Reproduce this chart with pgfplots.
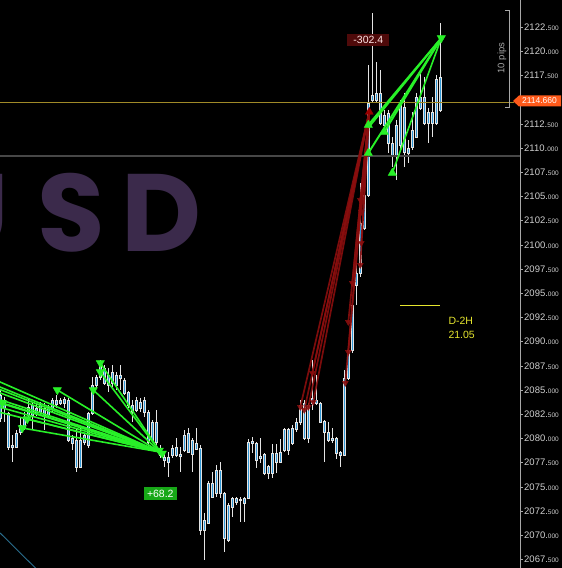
\documentclass[border=0pt]{standalone}
\usepackage{pgfplots}
\pgfplotsset{compat=1.18}
\usepgfplotslibrary{statistics}
\usepackage{fontspec}
\setmainfont{Liberation Sans}
\newfontfamily\wmfont{Poppins}

\definecolor{bg}{HTML}{000000}
\definecolor{cblue}{HTML}{2F97D6}
\definecolor{cwhite}{HTML}{E4E4E4}
\definecolor{goldline}{HTML}{A08A28}
\definecolor{greyline}{HTML}{474747}
\definecolor{tgreen}{HTML}{28F028}
\definecolor{tred}{HTML}{8A0E0E}
\definecolor{axisgrey}{HTML}{A8A8A8}
\definecolor{tickgrey}{HTML}{CFCFCF}
\definecolor{lvlyellow}{HTML}{E6E62E}
\definecolor{tagorange}{HTML}{FF5A1A}
\definecolor{plusgreen}{HTML}{17A817}
\definecolor{minusred}{HTML}{4F0A0A}
\definecolor{wm}{HTML}{3B2A4B}
\definecolor{bluediag}{HTML}{2A6E8E}

% price label: integer part and smaller decimals
\newcommand\tl[2]{\textnormal{\fontsize{9.5}{10}\selectfont #1.\fontsize{6.5}{7}\selectfont #2}}

\pgfplotsset{
  candle/.style={
    boxplot/draw direction=y,
    boxplot/box extend=2.8,
    boxplot/whisker extend=0,
    boxplot/every box/.style={draw=cwhite, fill=cblue, line width=0.5pt},
    boxplot/every whisker/.style={draw=cwhite, line width=0.55pt},
    boxplot/every median/.style={draw=none},
    draw=cwhite, solid},
  gline/.style={tgreen, line width=1.6pt, mark=none},
  rline/.style={tred, line width=1.7pt, mark=none, opacity=0.9},
}
% x, low, body low, body high, high
\newcommand\cndl[5]{\addplot[candle, boxplot prepared={draw position=#1,
  lower whisker=#2, lower quartile=#3, median=#3, upper quartile=#4,
  upper whisker=#5}] coordinates {};}
\newcommand\trade[5][gline]{\addplot[#1] coordinates {(#2,#3) (#4,#5)};}

\begin{document}
\begin{tikzpicture}[x=1pt,y=1pt]
\path[use as bounding box] (0,0) rectangle (562,568);
\fill[bg] (0,0) rectangle (562,568);

% watermark
\begin{scope}
\clip (0,0) rectangle (520,568);
\node[anchor=base east, inner sep=0, text=wm, font=\wmfont\bfseries\fontsize{110}{110}\selectfont] at (9,316) {U};
\node[anchor=base west, inner sep=0, text=wm, font=\wmfont\bfseries\fontsize{110}{110}\selectfont] at (37,316) {S};
\node[anchor=base west, inner sep=0, text=wm, font=\wmfont\bfseries\fontsize{110}{110}\selectfont] at (121,316) {D};
\end{scope}

\begin{axis}[
  at={(0,0)}, anchor=south west,
  scale only axis, width=520pt, height=568pt,
  xmin=-0.3, xmax=519.7, ymin=2066.61, ymax=2125.29,
  axis x line=none, axis y line*=right,
  axis line style={draw=axisgrey, line width=0.6pt},
  ytick={2067.5,2070,2072.5,2075,2077.5,2080,2082.5,2085,2087.5,2090,2092.5,2095,2097.5,2100,2102.5,2105,2107.5,2110,2112.5,2117.5,2120,2122.5},
  yticklabels={{\tl{2067}{500}},{\tl{2070}{000}},{\tl{2072}{500}},{\tl{2075}{000}},{\tl{2077}{500}},{\tl{2080}{000}},{\tl{2082}{500}},{\tl{2085}{000}},{\tl{2087}{500}},{\tl{2090}{000}},{\tl{2092}{500}},{\tl{2095}{000}},{\tl{2097}{500}},{\tl{2100}{000}},{\tl{2102}{500}},{\tl{2105}{000}},{\tl{2107}{500}},{\tl{2110}{000}},{\tl{2112}{500}},{\tl{2117}{500}},{\tl{2120}{000}},{\tl{2122}{500}}},
  tick align=outside, major tick length=3pt,
  tick style={draw=axisgrey, line width=0.5pt},
  yticklabel style={text=tickgrey, inner xsep=1pt},
]
% price bars
\cndl{0}{2081.69}{2082.11}{2084.48}{2085.00}
\cndl{4}{2081.69}{2083.14}{2083.97}{2084.28}
\cndl{8}{2078.80}{2079.11}{2082.62}{2082.73}
\cndl{12}{2077.56}{2079.11}{2079.32}{2080.35}
\cndl{16}{2079.01}{2079.11}{2080.56}{2080.87}
\cndl{20}{2080.35}{2080.66}{2081.38}{2082.11}
\cndl{24}{2080.87}{2081.07}{2082.11}{2082.73}
\cndl{28}{2082.11}{2082.42}{2083.24}{2084.17}
\cndl{32}{2080.87}{2082.42}{2083.45}{2083.76}
\cndl{36}{2082.31}{2082.62}{2083.14}{2083.55}
\cndl{40}{2082.42}{2082.73}{2083.45}{2083.76}
\cndl{44}{2080.87}{2082.42}{2083.14}{2083.66}
\cndl{48}{2082.11}{2082.42}{2083.24}{2083.45}
\cndl{52}{2082.73}{2083.14}{2083.97}{2084.17}
\cndl{56}{2083.14}{2083.55}{2083.97}{2084.48}
\cndl{60}{2083.45}{2083.66}{2083.97}{2084.17}
\cndl{64}{2083.14}{2083.66}{2084.07}{2084.28}
\cndl{68}{2079.63}{2079.83}{2083.97}{2084.17}
\cndl{72}{2078.80}{2079.52}{2080.04}{2080.35}
\cndl{76}{2076.53}{2077.04}{2079.83}{2081.07}
\cndl{80}{2076.94}{2077.04}{2079.83}{2081.07}
\cndl{84}{2079.32}{2079.63}{2080.35}{2080.56}
\cndl{88}{2079.01}{2079.32}{2082.62}{2082.70}
\cndl{92}{2082.42}{2082.62}{2085.52}{2086.34}
\cndl{96}{2085.21}{2085.52}{2086.34}{2086.55}
\cndl{100}{2086.03}{2086.34}{2087.79}{2088.10}
\cndl{104}{2085.52}{2085.72}{2087.27}{2087.58}
\cndl{108}{2084.79}{2085.52}{2086.55}{2087.27}
\cndl{112}{2085.31}{2085.72}{2086.86}{2087.58}
\cndl{116}{2085.00}{2085.52}{2086.55}{2086.86}
\cndl{120}{2085.00}{2086.24}{2086.55}{2087.58}
\cndl{124}{2084.48}{2084.69}{2086.03}{2086.24}
\cndl{128}{2083.14}{2083.45}{2084.79}{2084.85}
\cndl{132}{2081.69}{2082.73}{2083.45}{2083.97}
\cndl{136}{2082.73}{2082.93}{2083.97}{2084.28}
\cndl{140}{2082.73}{2083.14}{2083.76}{2084.17}
\cndl{144}{2082.21}{2082.73}{2083.97}{2084.28}
\cndl{148}{2078.80}{2079.63}{2082.73}{2082.93}
\cndl{152}{2079.63}{2079.83}{2081.69}{2081.90}
\cndl{156}{2079.32}{2079.63}{2081.69}{2082.93}
\cndl{160}{2077.97}{2078.28}{2079.01}{2079.32}
\cndl{164}{2077.04}{2077.77}{2078.08}{2078.59}
\cndl{168}{2076.01}{2077.56}{2078.08}{2078.59}
\cndl{172}{2077.97}{2078.28}{2079.01}{2079.32}
\cndl{176}{2078.08}{2078.28}{2079.11}{2080.04}
\cndl{180}{2076.53}{2078.18}{2078.39}{2079.11}
\cndl{184}{2078.59}{2078.80}{2080.35}{2080.87}
\cndl{188}{2078.49}{2078.59}{2080.56}{2081.07}
\cndl{192}{2076.53}{2078.39}{2079.83}{2080.04}
\cndl{196}{2078.80}{2078.90}{2079.52}{2081.07}
\cndl{200}{2070.02}{2070.54}{2079.01}{2079.32}
\cndl{204}{2067.44}{2070.54}{2071.57}{2072.29}
\cndl{208}{2071.16}{2071.26}{2075.39}{2075.60}
\cndl{212}{2073.84}{2073.94}{2075.39}{2076.53}
\cndl{216}{2073.94}{2074.36}{2076.73}{2077.25}
\cndl{220}{2073.84}{2074.36}{2076.73}{2077.56}
\cndl{224}{2068.26}{2069.71}{2074.36}{2074.45}
\cndl{228}{2069.30}{2069.50}{2073.12}{2073.33}
\cndl{232}{2071.88}{2072.91}{2073.84}{2073.94}
\cndl{236}{2073.12}{2073.43}{2073.84}{2073.94}
\cndl{240}{2071.36}{2073.64}{2073.74}{2073.94}
\cndl{244}{2071.36}{2073.33}{2073.84}{2073.94}
\cndl{248}{2073.74}{2073.84}{2079.63}{2079.94}
\cndl{252}{2078.49}{2079.52}{2079.73}{2080.14}
\cndl{256}{2076.94}{2077.77}{2079.52}{2079.63}
\cndl{260}{2077.46}{2077.97}{2078.18}{2080.04}
\cndl{264}{2076.22}{2076.42}{2078.39}{2078.49}
\cndl{268}{2075.80}{2076.42}{2077.15}{2077.25}
\cndl{272}{2075.91}{2076.42}{2078.49}{2079.42}
\cndl{276}{2076.42}{2077.56}{2078.49}{2079.42}
\cndl{280}{2077.46}{2077.56}{2078.59}{2079.94}
\cndl{284}{2078.59}{2078.80}{2080.97}{2081.07}
\cndl{288}{2078.28}{2078.80}{2080.97}{2081.07}
\cndl{292}{2079.32}{2079.52}{2081.07}{2081.38}
\cndl{296}{2080.66}{2080.97}{2081.69}{2082.11}
\cndl{300}{2081.38}{2081.69}{2083.45}{2083.97}
\cndl{304}{2079.83}{2080.04}{2083.66}{2083.97}
\cndl{308}{2079.52}{2080.04}{2083.45}{2083.66}
\cndl{312}{2082.93}{2083.66}{2084.17}{2088.10}
\cndl{316}{2083.45}{2083.66}{2083.97}{2086.55}
\cndl{320}{2081.59}{2081.69}{2083.66}{2083.76}
\cndl{324}{2077.56}{2080.66}{2081.80}{2081.90}
\cndl{328}{2079.63}{2079.83}{2080.66}{2081.69}
\cndl{332}{2079.52}{2079.83}{2080.04}{2081.07}
\cndl{336}{2077.87}{2078.49}{2080.04}{2080.10}
\cndl{340}{2077.04}{2078.28}{2078.59}{2078.65}
\cndl{344}{2078.18}{2078.28}{2086.24}{2087.07}
\cndl{348}{2086.03}{2086.24}{2089.13}{2089.85}
\cndl{352}{2088.82}{2089.13}{2093.78}{2094.61}
\cndl{356}{2093.78}{2095.85}{2097.09}{2098.74}
\cndl{360}{2096.67}{2097.09}{2102.25}{2106.38}
\cndl{364}{2101.53}{2101.73}{2105.14}{2106.38}
\cndl{368}{2104.94}{2105.14}{2114.65}{2118.58}
\cndl{372}{2114.65}{2114.96}{2115.48}{2123.95}
\cndl{376}{2114.75}{2114.96}{2115.68}{2118.88}
\cndl{380}{2112.38}{2112.58}{2115.68}{2118.06}
\cndl{384}{2112.07}{2112.38}{2113.41}{2113.93}
\cndl{388}{2109.48}{2110.52}{2113.62}{2113.93}
\cndl{392}{2108.04}{2109.28}{2110.52}{2111.14}
\cndl{396}{2106.69}{2109.28}{2112.38}{2112.89}
\cndl{400}{2109.79}{2110.31}{2114.44}{2114.96}
\cndl{404}{2108.04}{2109.59}{2114.24}{2115.68}
\cndl{408}{2108.45}{2109.48}{2110.00}{2110.83}
\cndl{412}{2109.79}{2110.10}{2111.86}{2113.72}
\cndl{416}{2111.03}{2111.14}{2115.27}{2115.68}
\cndl{420}{2113.93}{2114.13}{2115.27}{2117.75}
\cndl{424}{2112.38}{2112.58}{2115.27}{2117.33}
\cndl{428}{2110.52}{2112.58}{2113.72}{2114.13}
\cndl{432}{2111.14}{2112.58}{2113.72}{2115.27}
\cndl{436}{2112.38}{2112.58}{2117.13}{2117.54}
\cndl{440}{2113.72}{2113.93}{2117.33}{2122.91}

% level lines
\addplot[goldline, line width=1.1pt] coordinates {(-1,2114.66) (514,2114.66)};
\addplot[greyline, line width=1.3pt] coordinates {(-1,2109.17) (520,2109.17)};
\addplot[bluediag, line width=0.9pt] coordinates {(-10,2071.23) (45,2065.60)};
\addplot[lvlyellow, line width=0.8pt] coordinates {(400,2093.78) (440,2093.78)};

% closed sell trades, exit at 160
\trade{-30}{2087.17}{160}{2078.59}
\trade{-30}{2086.55}{160}{2078.59}
\trade{-30}{2086.24}{160}{2078.59}
\trade{-30}{2085.83}{160}{2078.59}
\trade{-30}{2085.00}{160}{2078.59}
\trade{-30}{2084.59}{160}{2078.59}
\trade{-30}{2084.07}{160}{2078.59}
\trade{-30}{2083.45}{160}{2078.59}
\trade{2}{2083.66}{160}{2078.59}
\trade{22}{2081.07}{160}{2078.59}
\trade{27}{2082.00}{160}{2078.59}
\trade{57}{2085.00}{160}{2078.59}
\trade{93}{2085.00}{160}{2078.59}
\trade{100}{2087.79}{160}{2078.59}
\trade{100}{2086.86}{160}{2078.59}
\addplot[only marks, mark=triangle*, mark size=4.8pt, mark options={rotate=180, fill=tgreen, draw=tgreen}]
  coordinates {(2,2083.66) (22,2081.07) (27,2082.00) (57,2085.00) (93,2085.00) (100,2087.79) (100,2086.86) (159,2078.75) (162,2078.45)};

% closed losing sells during the rally
\trade[rline]{300}{2083.24}{369}{2113.72}
\trade[rline]{304}{2082.93}{369}{2113.72}
\trade[rline]{308}{2083.24}{369}{2113.72}
\trade[rline]{312}{2086.76}{369}{2113.72}
\trade[rline]{313}{2083.76}{369}{2113.72}
\trade[rline]{345}{2085.72}{369}{2113.72}
\trade[rline]{348}{2088.92}{369}{2113.72}
\trade[rline]{348}{2092.02}{369}{2113.72}
\trade[rline]{352}{2096.05}{369}{2113.72}
\trade[rline]{360}{2097.91}{369}{2113.72}
\trade[rline]{361}{2100.19}{369}{2113.72}
\trade[rline]{361}{2103.39}{369}{2113.72}
\trade[rline]{360}{2104.63}{369}{2113.72}
\addplot[only marks, mark=triangle*, mark size=3.4pt, mark options={rotate=180, fill=tred, draw=tred, opacity=0.9}]
  coordinates {(300,2083.24) (304,2082.93) (308,2083.24) (312,2086.76) (313,2083.76) (345,2085.72) (348,2088.92) (348,2092.02) (352,2096.05) (360,2097.91) (361,2100.19) (361,2103.39) (360,2104.63)};
\addplot[only marks, mark=triangle*, mark size=4.6pt, mark options={fill=red!60!black, draw=red!60!black}]
  coordinates {(369,2113.72)};

% closed buy trades at the top
\trade[gline, line width=1.9pt]{368}{2112.38}{441}{2121.36}
\trade[gline, line width=1.9pt]{368}{2112.10}{441}{2121.36}
\trade[gline, line width=1.9pt]{368}{2109.48}{441}{2121.36}
\trade[gline, line width=1.9pt]{384}{2111.65}{441}{2121.36}
\trade[gline, line width=1.6pt]{392}{2107.42}{441}{2121.36}
\addplot[only marks, mark=triangle*, mark size=4.8pt, mark options={fill=tgreen, draw=tgreen}]
  coordinates {(368,2112.38) (368,2109.48) (384,2111.65) (392,2107.42)};
\addplot[only marks, mark=triangle*, mark size=4.8pt, mark options={rotate=180, fill=tgreen, draw=tgreen}]
  coordinates {(441,2121.36)};

% result labels
\node[fill=plusgreen, text=white, font=\fontsize{10.5}{11}\selectfont, inner xsep=3.5pt, inner ysep=2.5pt] at (axis cs:160,2074.31) {+68.2};
\node[fill=minusred, text=white!90!red, font=\fontsize{10.5}{11}\selectfont, inner xsep=6pt, inner ysep=2.5pt] at (axis cs:368,2121.16) {-302.4};
\node[anchor=base west, text=lvlyellow, font=\fontsize{10.5}{11}\selectfont, inner sep=0] at (axis cs:448,2091.8) {D-2H};
\node[anchor=base west, text=lvlyellow, font=\fontsize{10.5}{11}\selectfont, inner sep=0] at (axis cs:448,2090.35) {21.05};
\end{axis}

% current price tag
\fill[tagorange] (513,467) -- (519,472.5) -- (561,472.5) -- (561,461.5) -- (519,461.5) -- cycle;
\node[text=white, font=\fontsize{8.5}{9}\selectfont, inner sep=0] at (539.5,467) {2114.660};

% range bracket
\draw[axisgrey, line width=0.6pt] (505,558) -- (509,558) -- (509,461) -- (505,461);
\node[rotate=90, text=axisgrey, font=\fontsize{9.5}{10}\selectfont, inner sep=0] at (502,510) {10 pips};
\end{tikzpicture}
\end{document}
